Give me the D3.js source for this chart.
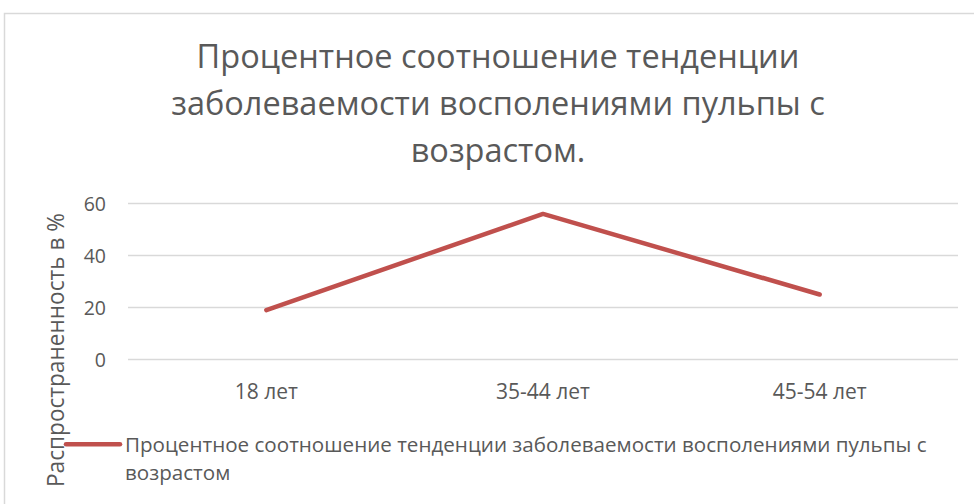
<!DOCTYPE html>
<html>
<head>
<meta charset="utf-8">
<script src="https://cdn.jsdelivr.net/npm/d3@7"></script>
<style>
  html, body { margin: 0; padding: 0; background: #fff; }
  svg { display: block; }
  text { font-family: "Open Sans", "DejaVu Sans", sans-serif; fill: #595959; }
</style>
</head>
<body>
<svg id="chart" width="974" height="504"></svg>
<script>
// Chart data
const categories = ["18 лет", "35-44 лет", "45-54 лет"];
const values = [19, 56, 25];
const yTicks = [0, 20, 40, 60];
const titleLines = ["Процентное соотношение тенденции", "заболеваемости восполениями пульпы с", "возрастом."];
const yAxisTitle = "Распространенность в %";
const legendLines = ["Процентное соотношение тенденции заболеваемости восполениями пульпы с", "возрастом"];

const svg = d3.select("#chart");
const W = 974, H = 504;
const plot = { left: 128, right: 958, top: 203.5, bottom: 359.5 };
const lineColor = "#C0504D";

// Chart area frame (top and left edges)
svg.append("path")
  .attr("d", `M4.5,${H} L4.5,13.5 L${W},13.5`)
  .attr("fill", "none")
  .attr("stroke", "#d9d9d9")
  .attr("stroke-width", 1.5);

// Title
svg.append("g").selectAll("text")
  .data(titleLines)
  .join("text")
  .attr("x", 498)
  .attr("y", (d, i) => 68 + i * 47)
  .attr("text-anchor", "middle")
  .attr("font-size", 32.5)
  .text(d => d);

const x = d3.scaleBand().domain(categories).range([plot.left, plot.right]);
const y = d3.scaleLinear().domain([0, 60]).range([plot.bottom, plot.top]);

// Horizontal gridlines
svg.append("g").selectAll("line")
  .data(yTicks)
  .join("line")
  .attr("x1", plot.left).attr("x2", plot.right)
  .attr("y1", d => y(d)).attr("y2", d => y(d))
  .attr("stroke", "#d9d9d9")
  .attr("stroke-width", 1.5);

// Y axis tick labels
const yAxis = d3.axisLeft(y).tickValues(yTicks).tickSize(0).tickPadding(0);
const gy = svg.append("g").attr("transform", `translate(106,0)`).call(yAxis);
gy.attr("font-family", null).attr("font-size", null);
gy.select(".domain").remove();
gy.selectAll("text")
  .attr("font-size", 19.5)
  .attr("fill", "#595959")
  .attr("dy", "0.35em");

// X axis category labels
const xAxis = d3.axisBottom(x).tickSize(0).tickPadding(0);
const gx = svg.append("g").attr("transform", `translate(0,${plot.bottom})`).call(xAxis);
gx.attr("font-family", null).attr("font-size", null);
gx.select(".domain").remove();
gx.selectAll("text")
  .attr("font-size", 21)
  .attr("fill", "#595959")
  .attr("dy", null)
  .attr("y", 39);

// Y axis title
svg.append("text")
  .attr("transform", "translate(63.5,350) rotate(-90)")
  .attr("text-anchor", "middle")
  .attr("font-size", 23)
  .attr("textLength", 274)
  .attr("lengthAdjust", "spacingAndGlyphs")
  .text(yAxisTitle);

// Series line
const line = d3.line()
  .x((d, i) => x(categories[i]) + x.bandwidth() / 2)
  .y(d => y(d));
svg.append("path")
  .datum(values)
  .attr("d", line)
  .attr("fill", "none")
  .attr("stroke", lineColor)
  .attr("stroke-width", 4.5)
  .attr("stroke-linecap", "round")
  .attr("stroke-linejoin", "round");

// Legend
svg.append("line")
  .attr("x1", 66).attr("x2", 120)
  .attr("y1", 444.3).attr("y2", 444.3)
  .attr("stroke", lineColor)
  .attr("stroke-width", 4.5)
  .attr("stroke-linecap", "round");
svg.append("g").selectAll("text")
  .data(legendLines)
  .join("text")
  .attr("x", 125)
  .attr("y", (d, i) => 451.7 + i * 28.5)
  .attr("font-size", 20.6)
  .text(d => d);
</script>
</body>
</html>
